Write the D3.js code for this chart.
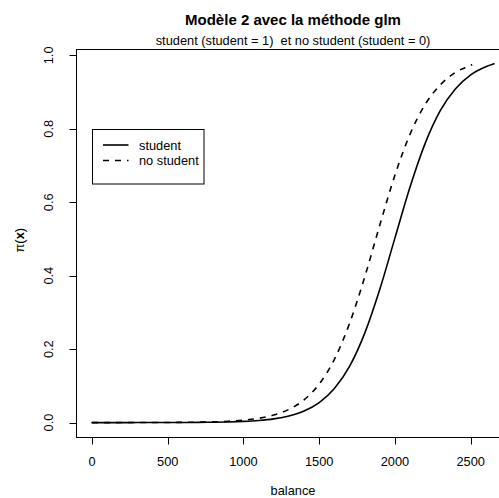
<!DOCTYPE html>
<html>
<head>
<meta charset="utf-8">
<script src="https://cdn.jsdelivr.net/npm/d3@7"></script>
<style>
  html, body { margin: 0; padding: 0; background: #fff; }
  svg text { font-family: "Liberation Sans", Arial, Helvetica, sans-serif; fill: #000; white-space: pre; }
</style>
</head>
<body>
<svg id="chart" width="499" height="498"></svg>
<script>
// Fitted probability curves pi(x) versus balance
const balanceStudent = [0, 100, 200, 300, 400, 500, 600, 700, 800, 900, 1000, 1100, 1200, 1300,
  1400, 1500, 1600, 1700, 1800, 1900, 2000, 2100, 2200, 2300, 2400, 2500, 2600, 2654];
const probStudent = [0.0000, 0.0000, 0.0000, 0.0001, 0.0001, 0.0002, 0.0003, 0.0006, 0.0010, 0.0018,
  0.0033, 0.0058, 0.0102, 0.0180, 0.0314, 0.0544, 0.0926, 0.153, 0.243, 0.363,
  0.503, 0.642, 0.761, 0.850, 0.909, 0.947, 0.969, 0.977];

const balanceNoStudent = [0, 100, 200, 300, 400, 500, 600, 700, 800, 900, 1000, 1100, 1200, 1300,
  1400, 1500, 1600, 1700, 1800, 1900, 2000, 2100, 2200, 2300, 2400, 2500, 2510];
const probNoStudent = [0.0000, 0.0000, 0.0001, 0.0001, 0.0002, 0.0004, 0.0007, 0.0012, 0.0021, 0.0037,
  0.0066, 0.0117, 0.0206, 0.0360, 0.0620, 0.105, 0.172, 0.270, 0.396, 0.538,
  0.674, 0.786, 0.867, 0.920, 0.954, 0.973, 0.975];

const xTicks = [0, 500, 1000, 1500, 2000, 2500];
const yTicks = [0.0, 0.2, 0.4, 0.6, 0.8, 1.0];
const legendLabels = ["student", "no student"];

const titleText = "Modèle 2 avec la méthode glm";
const subtitleText = "student (student = 1)  et no student (student = 0)";
const xLabel = "balance";

const svg = d3.select("#chart");
const FS = 12.8;

// Scales: R-style 4% padding around the data range
const xMax = d3.max(balanceStudent);
const yMax = d3.max(probStudent);
const x = d3.scaleLinear().domain([0, 2500]).range([92, 470.7]);
const y = d3.scaleLinear().domain([0, 1]).range([422.6, 55.4]);
const xPad = xMax * 0.04, yPad = yMax * 0.04;
const box = {
  left: x(-xPad), right: x(xMax + xPad),
  top: y(yMax + yPad), bottom: y(-yPad)
};

// Plot frame
svg.append("rect")
  .attr("x", Math.round(box.left) + 0.5)
  .attr("y", Math.round(box.top) + 0.5)
  .attr("width", Math.round(box.right) - Math.round(box.left))
  .attr("height", Math.round(box.bottom) - Math.round(box.top))
  .attr("fill", "none").attr("stroke", "#000").attr("stroke-width", 1);

// X axis
const xAxisY = Math.round(box.bottom) + 0.5;
const xAxis = svg.append("g");
xAxis.append("line")
  .attr("x1", x(xTicks[0])).attr("x2", x(xTicks[xTicks.length - 1]))
  .attr("y1", xAxisY).attr("y2", xAxisY).attr("stroke", "#000");
xTicks.forEach(t => {
  const px = Math.round(x(t)) + 0.5;
  xAxis.append("line").attr("x1", px).attr("x2", px)
    .attr("y1", xAxisY).attr("y2", xAxisY + 7).attr("stroke", "#000");
  xAxis.append("text").attr("x", x(t)).attr("y", 466)
    .attr("text-anchor", "middle").attr("font-size", FS).text(t);
});

// Y axis
const yAxisX = Math.round(box.left) + 0.5;
const yAxis = svg.append("g");
yAxis.append("line")
  .attr("x1", yAxisX).attr("x2", yAxisX)
  .attr("y1", y(yTicks[0])).attr("y2", y(yTicks[yTicks.length - 1])).attr("stroke", "#000");
yTicks.forEach(t => {
  const py = Math.round(y(t)) + 0.5;
  yAxis.append("line").attr("x1", yAxisX - 7).attr("x2", yAxisX)
    .attr("y1", py).attr("y2", py).attr("stroke", "#000");
  yAxis.append("text")
    .attr("transform", `translate(53,${y(t)}) rotate(-90)`)
    .attr("text-anchor", "middle").attr("font-size", FS).text(t.toFixed(1));
});

// Axis titles
svg.append("text").attr("x", (box.left + box.right) / 2).attr("y", 495)
  .attr("text-anchor", "middle").attr("font-size", FS).text(xLabel);

const yLab = svg.append("text")
  .attr("transform", `translate(24,${(box.top + box.bottom) / 2 - 3}) rotate(-90)`)
  .attr("text-anchor", "middle").attr("font-size", FS);
yLab.append("tspan").text("π");
yLab.append("tspan").text("(");
yLab.append("tspan").attr("font-weight", "bold").text("x");
yLab.append("tspan").text(")");

// Titles
svg.append("text").attr("x", (box.left + box.right) / 2).attr("y", 25)
  .attr("text-anchor", "middle").attr("font-size", 15).attr("font-weight", "bold").text(titleText);
svg.append("text").attr("x", (box.left + box.right) / 2).attr("y", 45)
  .attr("text-anchor", "middle").attr("font-size", FS).text(subtitleText);

// Curves
const line = d3.line().x(d => x(d[0])).y(d => y(d[1])).curve(d3.curveMonotoneX);
const studentPts = balanceStudent.map((b, i) => [b, probStudent[i]]);
const noStudentPts = balanceNoStudent.map((b, i) => [b, probNoStudent[i]]);

svg.append("path").datum(studentPts).attr("d", line)
  .attr("fill", "none").attr("stroke", "#000").attr("stroke-width", 1.6)
  .attr("stroke-linecap", "round").attr("stroke-linejoin", "round");
svg.append("path").datum(noStudentPts).attr("d", line)
  .attr("fill", "none").attr("stroke", "#000").attr("stroke-width", 1.6)
  .attr("stroke-dasharray", "6,6").attr("stroke-linejoin", "round");

// Legend
const lg = svg.append("g");
lg.append("rect").attr("x", 92.5).attr("y", 129.5).attr("width", 111.5).attr("height", 54.5)
  .attr("fill", "#fff").attr("stroke", "#000");
const dashes = [null, "6,6"];
legendLabels.forEach((lab, i) => {
  const ly = 145 + i * 15.5;
  lg.append("line").attr("x1", 103).attr("x2", 128.5).attr("y1", ly).attr("y2", ly)
    .attr("stroke", "#000").attr("stroke-width", 1.6)
    .attr("stroke-dasharray", dashes[i]);
  lg.append("text").attr("x", 139).attr("y", ly + 4.5).attr("font-size", FS).text(lab);
});
</script>
</body>
</html>
